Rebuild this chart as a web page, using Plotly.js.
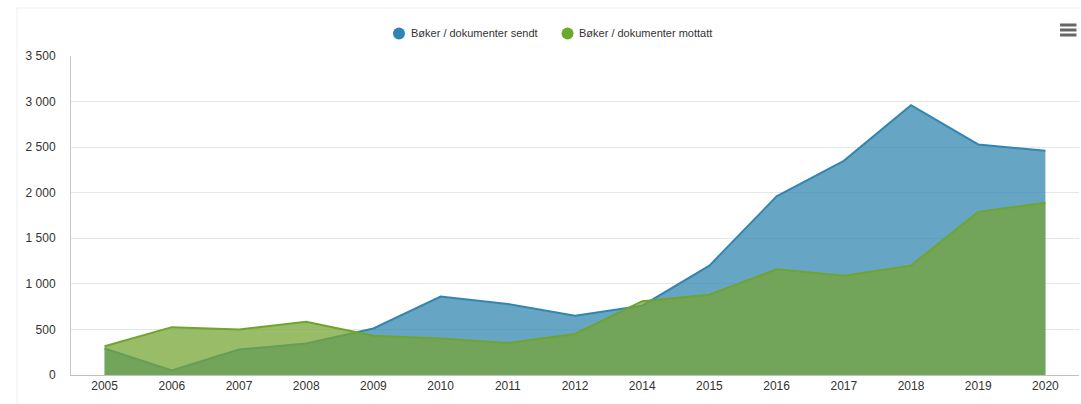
<!DOCTYPE html>
<html>
<head>
<meta charset="utf-8">
<script src="https://cdn.plot.ly/plotly-3.0.1.min.js"></script>
<style>html,body{margin:0;padding:0;background:#fff;}#chart{width:1081px;height:404px;}</style>
</head>
<body>
<div id="chart"></div>
<script>
var years = ["2005","2006","2007","2008","2009","2010","2011","2012","2014","2015","2016","2017","2018","2019","2020"];
var sent = [290, 50, 280, 345, 510, 860, 780, 650, 760, 1200, 1960, 2350, 2960, 2530, 2460];
var received = [315, 525, 500, 585, 430, 400, 350, 450, 810, 880, 1160, 1090, 1200, 1790, 1890];
var seriesNames = ["Bøker / dokumenter sendt", "Bøker / dokumenter mottatt"];
var yTicks = [0, 500, 1000, 1500, 2000, 2500, 3000, 3500];

var blueLine = "#3486b0", blueFill = "rgba(52,135,176,0.75)", blueDot = "#2f84b6";
var greenLine = "#6fa52e", greenFill = "rgba(118,166,54,0.75)", greenDot = "#6ca82e";

var traces = [
  {x: years, y: sent, type: "scatter", mode: "lines", fill: "tozeroy",
   line: {color: blueLine, width: 2}, fillcolor: blueFill, showlegend: false, name: seriesNames[0]},
  {x: years, y: received, type: "scatter", mode: "lines", fill: "tozeroy",
   line: {color: greenLine, width: 2}, fillcolor: greenFill, showlegend: false, name: seriesNames[1]}
];

function dot(xp, color) {
  return {type: "circle", xref: "paper", yref: "paper", xsizemode: "pixel", ysizemode: "pixel",
    xanchor: xp, yanchor: 1.0705, x0: -6, x1: 6, y0: -6, y1: 6,
    fillcolor: color, line: {width: 0}};
}
function bar(yp) {
  return {type: "line", xref: "paper", yref: "paper", x0: 0.9812, x1: 0.9975, y0: yp, y1: yp,
    line: {color: "#666", width: 3}};
}

var layout = {
  width: 1081, height: 404,
  margin: {l: 71, r: 2, t: 56, b: 29, pad: 0},
  paper_bgcolor: "#fff", plot_bgcolor: "#fff",
  separators: ", ",
  showlegend: false,
  font: {family: "Liberation Sans, Arial, sans-serif", size: 12, color: "#333"},
  xaxis: {type: "category", categoryorder: "array", categoryarray: years,
    range: [-0.5, 14.5], showgrid: false, zeroline: false,
    showline: true, linecolor: "#c0c0c0", linewidth: 1, ticks: "",
    tickfont: {size: 12, color: "#333"}, fixedrange: true},
  yaxis: {range: [0, 3500], tickvals: yTicks, tickformat: ",d",
    showgrid: true, gridcolor: "#e6e6e6", gridwidth: 1, zeroline: false,
    showline: true, linecolor: "#c8c8c8", linewidth: 1, ticks: "",
    ticklabelstandoff: 12,
    tickfont: {size: 12, color: "#333"}, fixedrange: true},
  annotations: [
    {xref: "paper", yref: "paper", x: 0.3353, y: 1.0735, xanchor: "left", yanchor: "middle",
     text: seriesNames[0], showarrow: false, font: {size: 11, color: "#333"}},
    {xref: "paper", yref: "paper", x: 0.5019, y: 1.0735, xanchor: "left", yanchor: "middle",
     text: seriesNames[1], showarrow: false, font: {size: 11, color: "#333"}}
  ],
  shapes: [
    {type: "line", xref: "paper", yref: "paper", x0: -0.0536, x1: 1.002, y0: 1.1505, y1: 1.1505, line: {color: "#f0f0f0", width: 1}},
    {type: "line", xref: "paper", yref: "paper", x0: -0.0536, x1: -0.0536, y0: -0.1, y1: 1.1505, line: {color: "#f0f0f0", width: 1}},
    dot(0.3254, blueDot), dot(0.4926, greenDot),
    bar(1.0972), bar(1.0815), bar(1.0658)
  ]
};

Plotly.newPlot("chart", traces, layout, {displayModeBar: false, staticPlot: true});
</script>
</body>
</html>
